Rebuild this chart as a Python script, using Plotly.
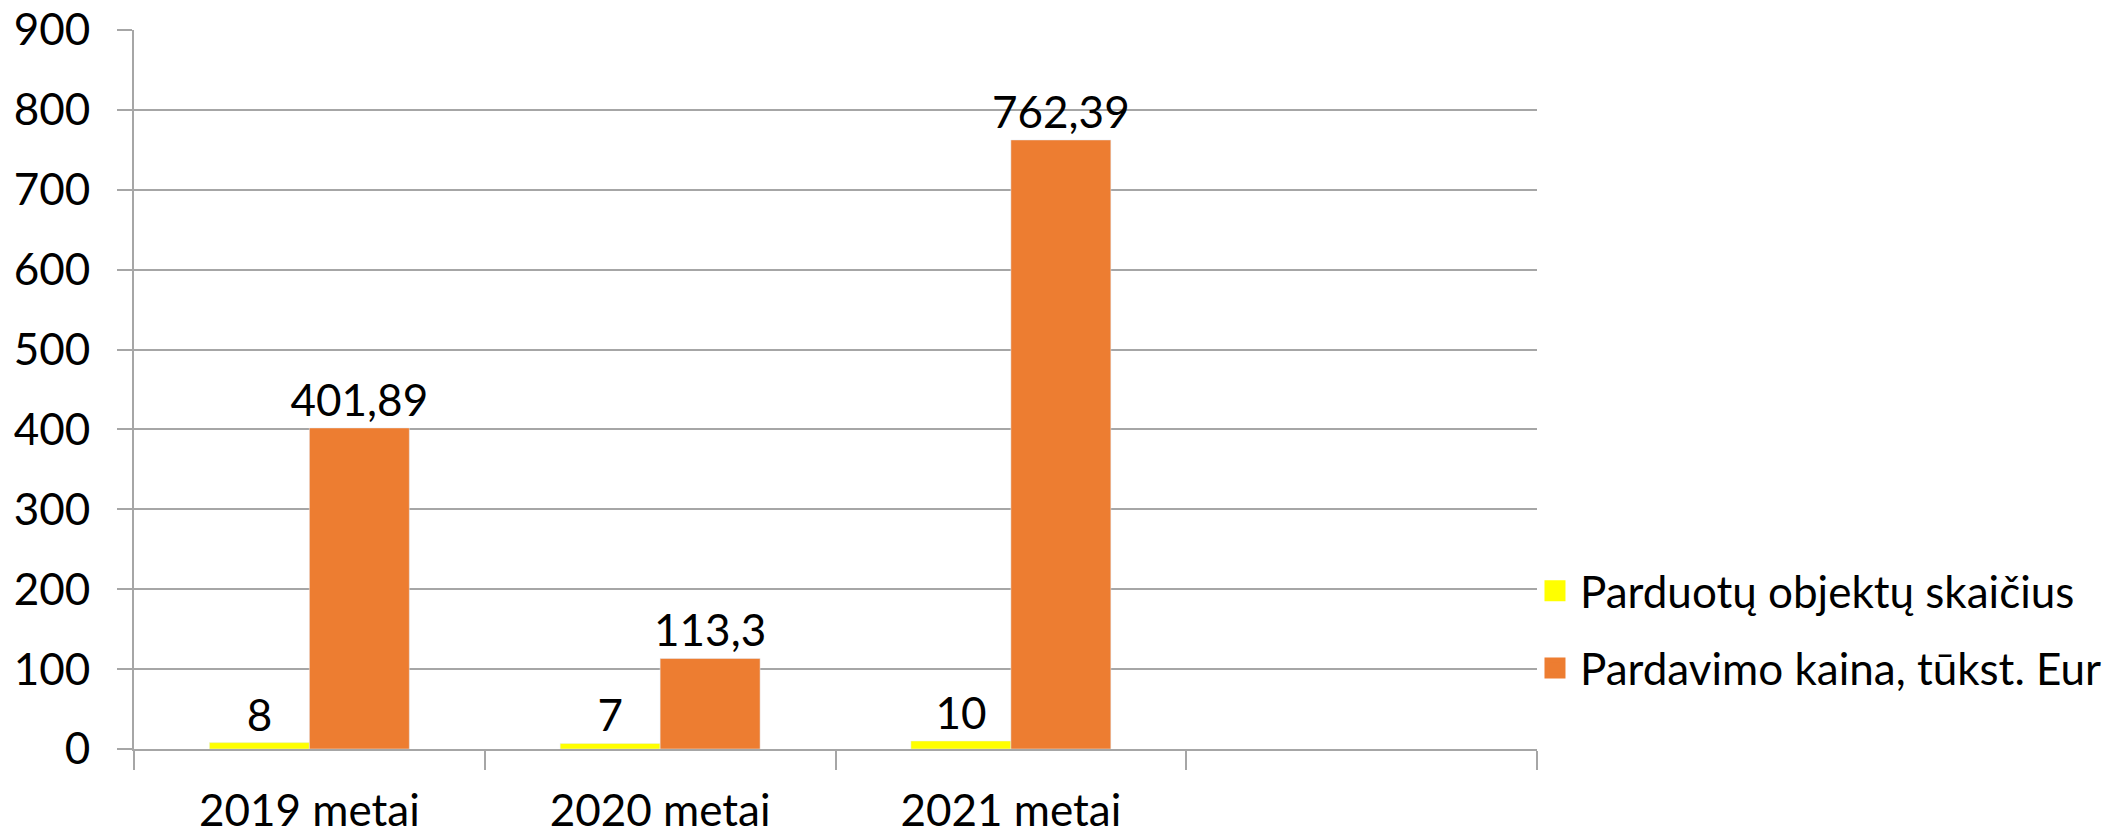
import plotly.graph_objects as go

categories = ["2019 metai", "2020 metai", "2021 metai", " "]
series1_name = "Parduotų objektų skaičius"
series1_values = [8, 7, 10, None]
series1_labels = ["8", "7", "10", ""]
series2_name = "Pardavimo kaina, tūkst. Eur"
series2_values = [401.89, 113.3, 762.39, None]
series2_labels = ["401,89", "113,3", "762,39", ""]
y_ticks = [0, 100, 200, 300, 400, 500, 600, 700, 800, 900]

COLOR1 = "#FFFF00"
COLOR2 = "#ED7D31"
FONT = "Lato"
FS = 44

fig = go.Figure()
for vals, labels, nm, col in [(series1_values, series1_labels, series1_name, COLOR1),
                              (series2_values, series2_labels, series2_name, COLOR2)]:
    fig.add_trace(go.Bar(
        x=categories, y=vals, name=nm,
        marker=dict(color=col),
        text=labels, textposition="outside", cliponaxis=False,
        constraintext="none",
        textfont=dict(family=FONT, size=FS, color="black"),
        showlegend=False,
    ))
# legend entries (square swatches)
for nm, col, grp in [(series1_name, COLOR1, "a"), (series2_name, COLOR2, "b")]:
    fig.add_trace(go.Scatter(
        x=[None], y=[None], mode="markers", name=nm,
        marker=dict(symbol="square", size=26, color=col,
                    line=dict(color=col, width=5)),
        legendgroup=grp, showlegend=True,
    ))

fig.update_layout(
    width=2124, height=832,
    margin=dict(l=126, r=595, t=22, b=91, autoexpand=False),
    paper_bgcolor="white", plot_bgcolor="white",
    font=dict(family=FONT, size=FS, color="black"),
    barmode="group", bargap=0.43, bargroupgap=0,
    showlegend=True,
    legend=dict(x=0.995, y=0.166, xanchor="left", yanchor="middle",
                font=dict(family=FONT, size=FS, color="black"),
                traceorder="grouped", tracegroupgap=17,
                itemwidth=40,
                bgcolor="rgba(0,0,0,0)"),
)
fig.update_xaxes(
    type="category", categoryorder="array", categoryarray=categories,
    range=[-0.5, 3.5], showline=True, linecolor="#A6A6A6", linewidth=2,
    ticks="outside", tickson="boundaries", ticklen=19, tickcolor="#A6A6A6", tickwidth=2,
    showgrid=False, tickfont=dict(family=FONT, size=FS, color="black"),
    ticklabelstandoff=22, automargin=False, ticklabeloverflow="allow",
)
fig.update_yaxes(
    range=[0, 900], tickvals=y_ticks, showline=True, linecolor="#A6A6A6", linewidth=2,
    ticks="outside", ticklen=15, tickcolor="#A6A6A6", tickwidth=2,
    showgrid=True, gridcolor="#A6A6A6", gridwidth=2, zeroline=False,
    tickfont=dict(family=FONT, size=FS, color="black"), ticklabelstandoff=18,
    automargin=False, ticklabeloverflow="allow",
)

fig.write_html("out.html")
